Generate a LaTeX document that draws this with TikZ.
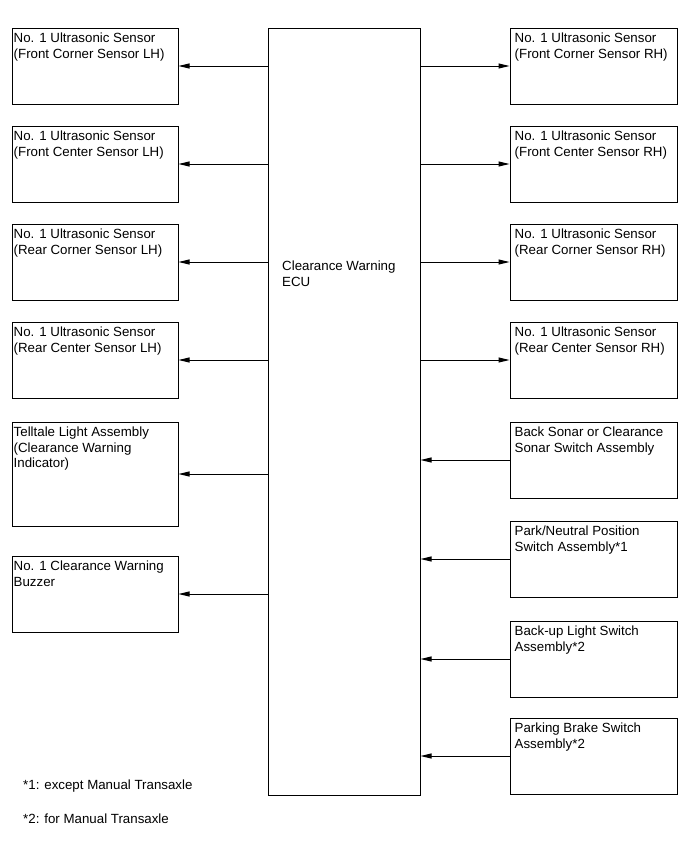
\documentclass[tikz,border=0pt]{standalone}
\usepackage{fontspec}
\setmainfont{Liberation Sans}
\usetikzlibrary{arrows.meta}
\begin{document}
\begin{tikzpicture}[x=1pt,y=-1pt,
  box/.style={draw, line width=1pt, rectangle, inner sep=0pt, minimum width=165.5pt, minimum height=76pt},
  rbox/.style={box, minimum width=167pt},
  txt/.style={inner sep=0pt, anchor=north west, align=left, font=\fontsize{13.3}{15.8}\selectfont},
  arr/.style={line width=1pt, -{Triangle[length=11pt,width=5pt]}}]
\path[use as bounding box] (0,0) rectangle (691,854);
% ECU
\node[box, minimum width=152pt, minimum height=767pt] (ECU) at (344,411.5) {};
\node[txt] (tECU) at (282,261) {Clearance Warning\\ECU};
% left boxes
\node[box] (L1) at (95.25,66) {};
\node[box] (L2) at (95.25,164) {};
\node[box] (L3) at (95.25,262) {};
\node[box] (L4) at (95.25,360) {};
\node[box, minimum height=104pt] (L5) at (95.25,474) {};
\node[box] (L6) at (95.25,594) {};
\node[txt] (tL1) at ([shift={(1.5,5)}]L1.north west) {No. 1 Ultrasonic Sensor\\(Front Corner Sensor LH)};
\node[txt] (tL2) at ([shift={(1.5,5)}]L2.north west) {No. 1 Ultrasonic Sensor\\(Front Center Sensor LH)};
\node[txt] (tL3) at ([shift={(1.5,5)}]L3.north west) {No. 1 Ultrasonic Sensor\\(Rear Corner Sensor LH)};
\node[txt] (tL4) at ([shift={(1.5,5)}]L4.north west) {No. 1 Ultrasonic Sensor\\(Rear Center Sensor LH)};
\node[txt] (tL5) at ([shift={(1.5,5)}]L5.north west) {Telltale Light Assembly\\(Clearance Warning\\Indicator)};
\node[txt] (tL6) at ([shift={(1.5,5)}]L6.north west) {No. 1 Clearance Warning\\Buzzer};
% right boxes
\node[rbox] (R1) at (593.5,66) {};
\node[rbox] (R2) at (593.5,164) {};
\node[rbox] (R3) at (593.5,262) {};
\node[rbox] (R4) at (593.5,360) {};
\node[rbox] (R5) at (593.5,460) {};
\node[rbox] (R6) at (593.5,559) {};
\node[rbox] (R7) at (593.5,659) {};
\node[rbox] (R8) at (593.5,756) {};
\node[txt] (tR1) at ([shift={(5,5)}]R1.north west) {No. 1 Ultrasonic Sensor\\(Front Corner Sensor RH)};
\node[txt] (tR2) at ([shift={(5,5)}]R2.north west) {No. 1 Ultrasonic Sensor\\(Front Center Sensor RH)};
\node[txt] (tR3) at ([shift={(5,5)}]R3.north west) {No. 1 Ultrasonic Sensor\\(Rear Corner Sensor RH)};
\node[txt] (tR4) at ([shift={(5,5)}]R4.north west) {No. 1 Ultrasonic Sensor\\(Rear Center Sensor RH)};
\node[txt] (tR5) at ([shift={(5,5)}]R5.north west) {Back Sonar or Clearance\\Sonar Switch Assembly};
\node[txt] (tR6) at ([shift={(5,5)}]R6.north west) {Park/Neutral Position\\Switch Assembly*1};
\node[txt] (tR7) at ([shift={(5,5)}]R7.north west) {Back-up Light Switch\\Assembly*2};
\node[txt] (tR8) at ([shift={(5,5)}]R8.north west) {Parking Brake Switch\\Assembly*2};
% connectors
\foreach \b in {L1,L2,L3,L4,L5,L6}
  \draw[arr] (ECU.west |- \b.east) -- (\b.east);
\foreach \b in {R1,R2,R3,R4}
  \draw[arr] (ECU.east |- \b.west) -- (\b.west);
\foreach \b in {R5,R6,R7,R8}
  \draw[arr] (\b.west) -- (ECU.east |- \b.west);
% footnotes
\node[txt, anchor=base west] (f1) at (23,789) {*1: except Manual Transaxle};
\node[txt, anchor=base west] (f2) at (23,823) {*2: for Manual Transaxle};
\end{tikzpicture}
\end{document}
